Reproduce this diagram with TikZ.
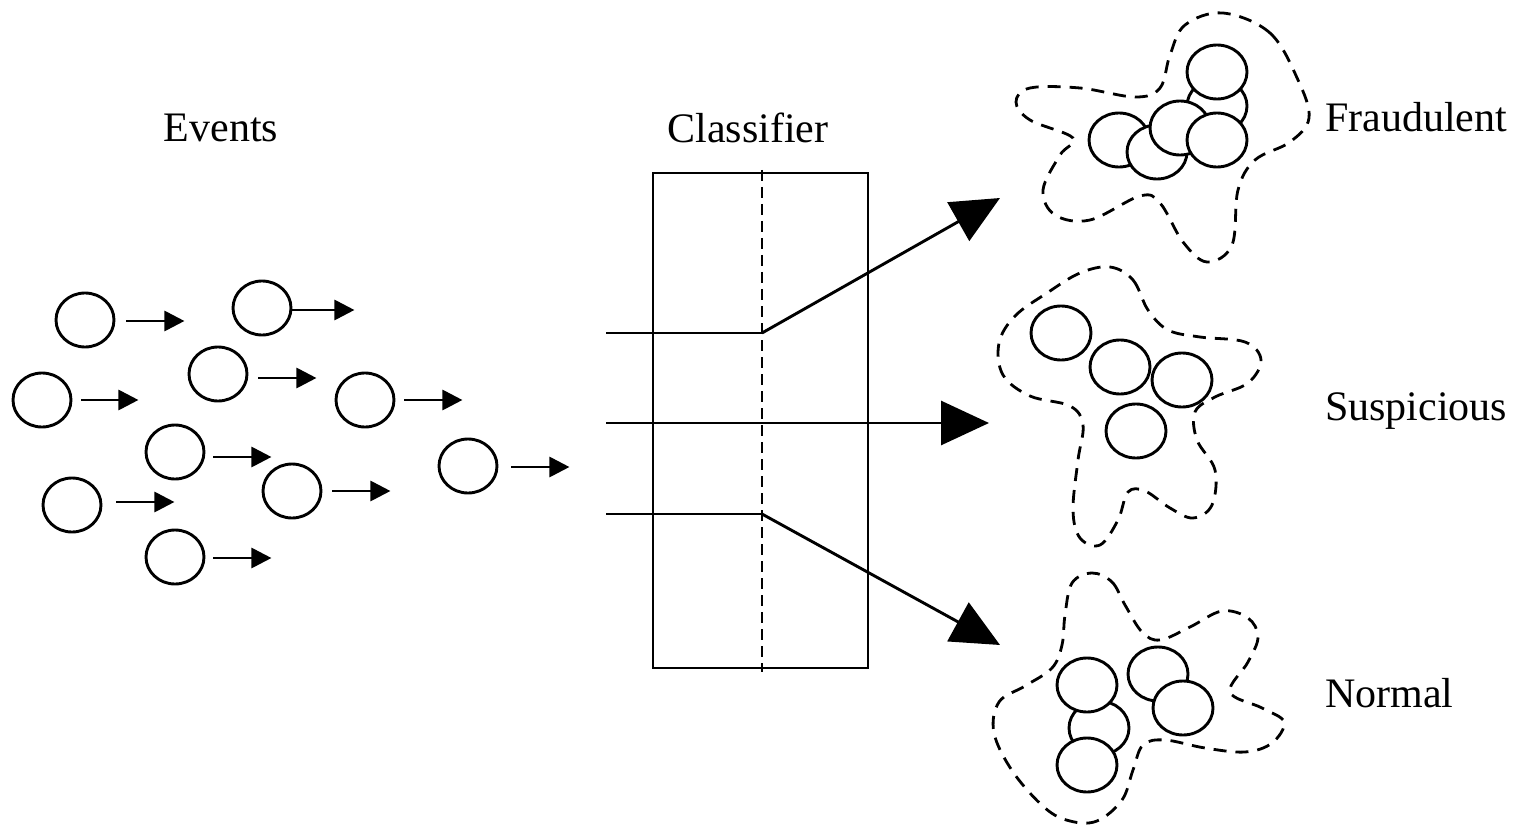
\documentclass[tikz,border=0pt]{standalone}
\usepackage{fontspec}
\setmainfont{Liberation Serif}
\usetikzlibrary{arrows.meta,shapes.geometric}
\begin{document}
\begin{tikzpicture}[x=1pt,y=-1pt,
  lbl/.style={font=\fontsize{42}{48}\selectfont, inner sep=0pt},
  ev/.style={draw, ellipse, line width=2.9pt, fill=white, inner sep=0pt, minimum width=58pt, minimum height=54pt},
  cl/.style={draw, ellipse, line width=2.9pt, fill=white, inner sep=0pt, minimum width=60pt, minimum height=54pt},
  evarrow/.style={line width=2.9pt, -{Triangle[length=20pt,width=20pt]}},
  bigarrow/.style={line width=2.9pt, -{Triangle[length=48pt,width=44pt]}},
  flow/.style={line width=2.9pt},
  blob/.style={line width=2.8pt, dash pattern=on 13pt off 9pt},
  box/.style={draw, line width=2.9pt, inner sep=0pt, minimum width=215pt, minimum height=495pt}
]
\useasboundingbox (0,0) rectangle (1520,826);

% labels
\node[lbl] (lev) at (221,128) {Events};
\node[lbl] (lcl) at (748,128) {Classifier};
\node[lbl, anchor=west] (lfr) at (1325,117) {Fraudulent};
\node[lbl, anchor=west] (lsu) at (1325,411) {Suspicious};
\node[lbl, anchor=west] (lno) at (1325,693) {Normal};

% events
\node[ev] (e1) at (85,320) {};
\node[ev] (e2) at (262,308) {};
\node[ev] (e3) at (218,374) {};
\node[ev] (e4) at (42,400) {};
\node[ev] (e5) at (365,400) {};
\node[ev] (e6) at (175,452) {};
\node[ev] (e7) at (292,491) {};
\node[ev] (e8) at (72,505) {};
\node[ev] (e9) at (468,466) {};
\node[ev] (e10) at (175,557) {};
\draw[evarrow] ([xshift=11pt]e1.east |- 0,321) -- ++(58,0);
\draw[evarrow] (e2.east |- 0,310) -- ++(62,0);
\draw[evarrow] ([xshift=10pt]e3.east |- 0,378) -- ++(58,0);
\draw[evarrow] ([xshift=9pt]e4.east |- 0,400) -- ++(57,0);
\draw[evarrow] ([xshift=9pt]e5.east |- 0,400) -- ++(58,0);
\draw[evarrow] ([xshift=8pt]e6.east |- 0,457) -- ++(58,0);
\draw[evarrow] ([xshift=10pt]e7.east |- 0,491) -- ++(58,0);
\draw[evarrow] ([xshift=14pt]e8.east |- 0,502) -- ++(58,0);
\draw[evarrow] ([xshift=13pt]e9.east |- 0,467) -- ++(58,0);
\draw[evarrow] ([xshift=8pt]e10.east |- 0,558) -- ++(58,0);

% classifier
\node[box] (cls) at (760.5,420.5) {};
\coordinate (dt) at (762,170);
\coordinate (db) at (762,672);
\draw[line width=2.6pt, dash pattern=on 11pt off 6pt] (dt) -- (db);

\coordinate (i1) at (606,333);
\coordinate (i2) at (606,423);
\coordinate (i3) at (606,514);
\coordinate (k1) at (762,333);
\coordinate (k3) at (762,514);
\coordinate (tF) at (1000,198);
\coordinate (tS) at (989,423);
\coordinate (tN) at (1000,645);
\draw[flow] (i1) -- (k1);
\draw[bigarrow] (k1) -- (tF);
\draw[bigarrow] (i2) -- (tS);
\draw[flow] (i3) -- (k3);
\draw[bigarrow] (k3) -- (tN);

% Fraudulent blob
\draw[blob] plot[smooth cycle, tension=0.6] coordinates {
 (1223,13) (1270,33) (1298,80) (1309,118) (1290,142) (1255,160) (1238,190)
 (1232,245) (1207,262) (1183,242) (1160,203) (1140,196) (1090,220) (1055,215)
 (1043,190) (1060,155) (1073,138) (1030,120) (1016,102) (1030,88) (1080,88)
 (1135,97) (1160,88) (1170,55) (1185,25)};
\node[cl] (f2) at (1217,106) {};
\node[cl] (f6) at (1119,140) {};
\node[cl] (f5) at (1157,152) {};
\node[cl] (f4) at (1180,128) {};
\node[cl] (f1) at (1217,72) {};
\node[cl] (f3) at (1217,140) {};

% Suspicious blob
\draw[blob] plot[smooth cycle, tension=0.6] coordinates {
 (1110,267) (1133,280) (1148,310) (1168,330) (1200,337) (1245,342) (1261,360)
 (1248,383) (1215,397) (1195,412) (1197,440) (1215,470) (1212,505) (1193,518)
 (1170,508) (1145,491) (1128,492) (1118,520) (1100,545) (1080,538) (1073,510)
 (1078,460) (1083,425) (1070,406) (1030,396) (1003,375) (999,343) (1015,316)
 (1047,293) (1080,273)};
\node[cl] (s1) at (1061,333) {};
\node[cl] (s2) at (1120,367) {};
\node[cl] (s3) at (1182,380) {};
\node[cl] (s4) at (1136,431) {};

% Normal blob
\draw[blob] plot[smooth cycle, tension=0.6] coordinates {
 (1092,573) (1112,582) (1125,605) (1142,632) (1160,640) (1190,627) (1222,611)
 (1248,618) (1258,637) (1248,662) (1230,692) (1262,708) (1284,722) (1272,743)
 (1245,752) (1205,748) (1165,740) (1143,745) (1133,770) (1122,800) (1097,821)
 (1070,821) (1045,808) (1013,772) (994,733) (999,702) (1025,686) (1052,668)
 (1062,645) (1065,615) (1072,583)};
\node[cl] (n2) at (1099,728) {};
\node[cl] (n1) at (1087,685) {};
\node[cl] (n3) at (1087,765) {};
\node[cl] (n4) at (1158,674) {};
\node[cl] (n5) at (1183,708) {};
\end{tikzpicture}
\end{document}
